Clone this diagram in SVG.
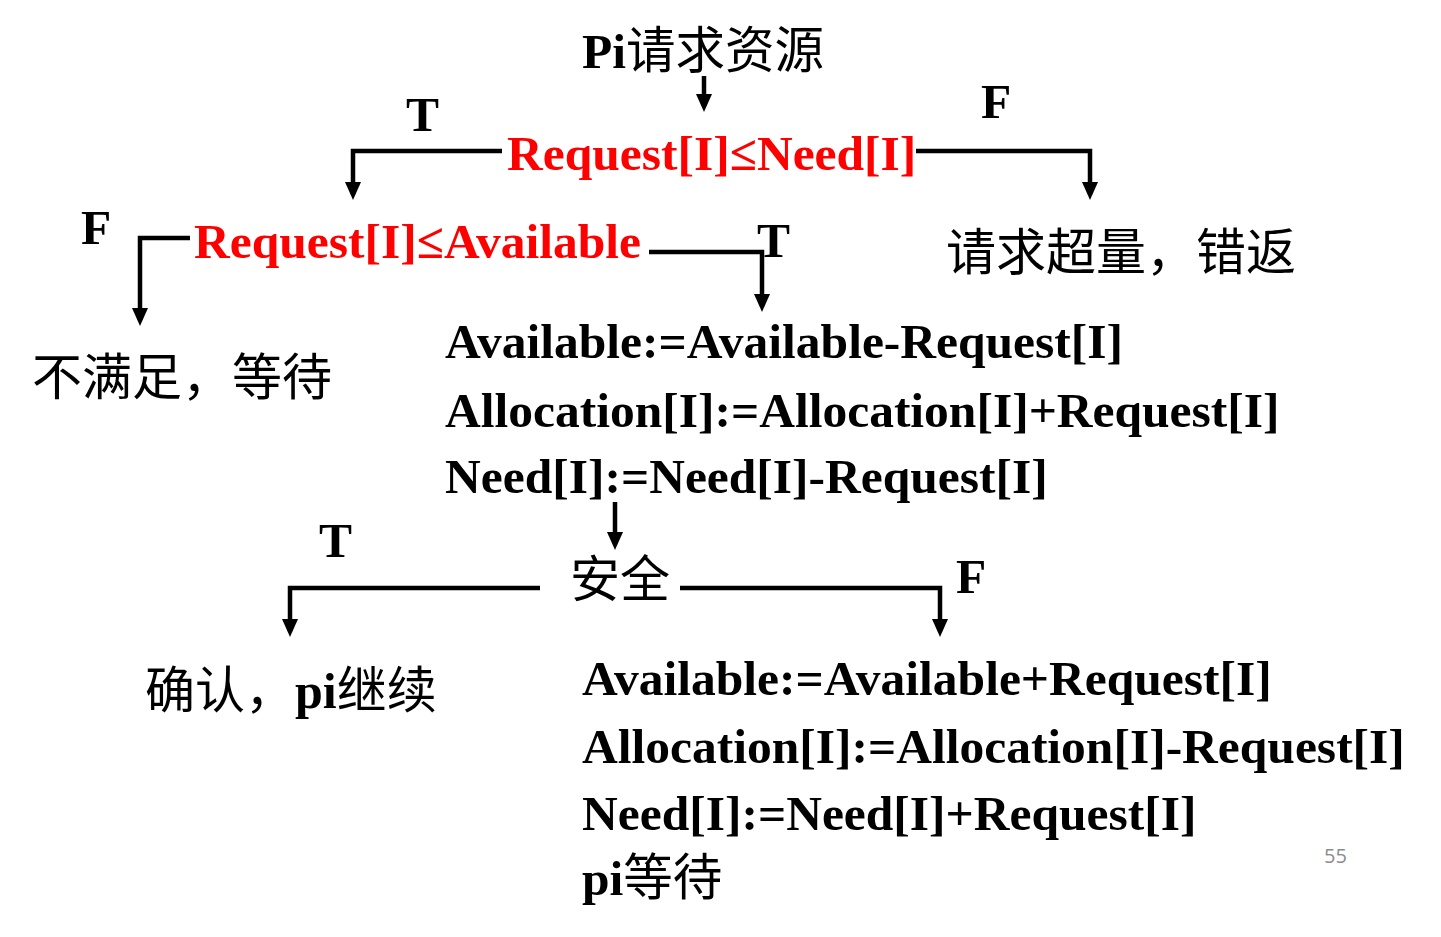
<svg xmlns="http://www.w3.org/2000/svg" width="1441" height="937" viewBox="0 0 1441 937">
<defs>
<marker id="ah" viewBox="0 0 18 16" refX="12" refY="8" markerWidth="18" markerHeight="16" markerUnits="userSpaceOnUse" orient="auto">
<path d="M0,0 L18,8 L0,16 z" fill="#000"/>
</marker>
<style>
.t{font-family:"Liberation Serif","Noto Sans CJK SC",serif;font-size:49.5px;font-weight:bold;fill:#000}
.r{fill:#ff0000}
.c{font-family:"Liberation Serif","Noto Sans CJK SC",serif;font-size:50px;font-weight:normal;fill:#000}
.cj{font-family:"Noto Sans CJK SC",sans-serif;font-weight:normal}
.ln{fill:none;stroke:#000;stroke-width:4.5;marker-end:url(#ah)}
.pg{font-family:"Open Sans","Liberation Sans",sans-serif;font-size:20px;fill:#8c8c8c}
</style>
</defs>
<rect width="1441" height="937" fill="#fff"/>
<g id="connectors">
<path class="ln" d="M704,76 V106"/>
<path class="ln" d="M502,151 H353 V194"/>
<path class="ln" d="M916,151 H1090 V194"/>
<path class="ln" d="M190,238 H140 V320"/>
<path class="ln" d="M649,252 H762 V306"/>
<path class="ln" d="M615,502 V544"/>
<path class="ln" d="M540,588 H290 V631"/>
<path class="ln" d="M680,588 H940 V631"/>
</g>
<g id="start"><text class="t" x="582" y="68">Pi<tspan class="cj">请求资源</tspan></text></g>
<g id="cond1"><text class="t r" x="507" y="170">Request[I]≤Need[I]</text></g>
<g id="label-T1"><text class="t" x="406" y="131">T</text></g>
<g id="label-F1"><text class="t" x="981" y="118">F</text></g>
<g id="error"><text class="c cj" x="946" y="270">请求超量，错返</text></g>
<g id="cond2"><text class="t r" x="194" y="258">Request[I]≤Available</text></g>
<g id="label-F2"><text class="t" x="81" y="244">F</text></g>
<g id="label-T2"><text class="t" x="757" y="257">T</text></g>
<g id="wait"><text class="c cj" x="32" y="395">不满足，等待</text></g>
<g id="alloc">
<text class="t" x="445" y="358">Available:=Available-Request[I]</text>
<text class="t" x="445" y="427">Allocation[I]:=Allocation[I]+Request[I]</text>
<text class="t" x="445" y="493">Need[I]:=Need[I]-Request[I]</text>
</g>
<g id="safe"><text class="c cj" x="570" y="597">安全</text></g>
<g id="label-T3"><text class="t" x="319" y="557">T</text></g>
<g id="label-F3"><text class="t" x="956" y="593">F</text></g>
<g id="confirm"><text class="c" x="145" y="708"><tspan class="cj">确认，</tspan><tspan font-weight="bold">pi</tspan><tspan class="cj">继续</tspan></text></g>
<g id="rollback">
<text class="t" x="582" y="695">Available:=Available+Request[I]</text>
<text class="t" x="582" y="763">Allocation[I]:=Allocation[I]-Request[I]</text>
<text class="t" x="582" y="830">Need[I]:=Need[I]+Request[I]</text>
<text class="t" x="582" y="895">pi<tspan class="cj" font-weight="normal">等待</tspan></text>
</g>
<text class="pg" x="1324" y="863">55</text>
</svg>
